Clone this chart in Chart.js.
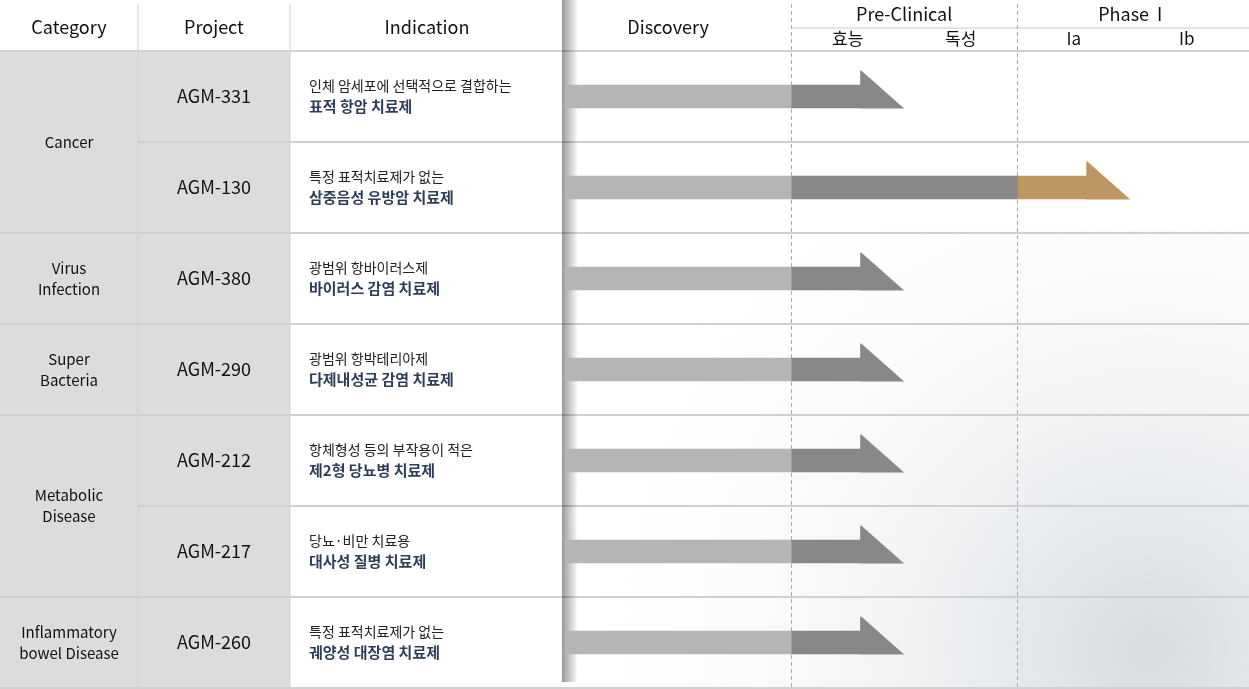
<!DOCTYPE html>
<html><head><meta charset="utf-8">
<script src="https://cdn.jsdelivr.net/npm/chart.js@4"></script>
<style>body{margin:0;background:#fff}canvas{display:block}</style>
</head><body>
<canvas id="pipe" width="1249" height="689"></canvas>
<script>
const projects = ['AGM-331', 'AGM-130', 'AGM-380', 'AGM-290', 'AGM-212', 'AGM-217', 'AGM-260'];
const descLine1 = ['인체 암세포에 선택적으로 결합하는', '특정 표적치료제가 없는', '광범위 항바이러스제', '광범위 항박테리아제', '항체형성 등의 부작용이 적은', '당뇨·비만 치료용', '특정 표적치료제가 없는'];
const descLine2 = ['표적 항암 치료제', '삼중음성 유방암 치료제', '바이러스 감염 치료제', '다제내성균 감염 치료제', '제2형 당뇨병 치료제', '대사성 질병 치료제', '궤양성 대장염 치료제'];
const categories = [['Cancer', 0, 1], ['Virus\nInfection', 2, 2], ['Super\nBacteria', 3, 3], ['Metabolic\nDisease', 4, 5], ['Inflammatory\nbowel Disease', 6, 6]];
// progress on stage axis: 0-2 Discovery, 2-4 Pre-Clinical (효능, 독성), 4-6 Phase I (Ia, Ib)
const progress = [3, 5, 3, 3, 3, 3, 3];
const headLen = 0.38;

const discovery = projects.map(() => [0, 2]);
const preclinical = progress.map(p => [2, Math.min(p - headLen, 4)]);
const phase1 = progress.map(p => p > 4 ? [4, p - headLen] : null);

const FONT = '"Noto Sans CJK KR", "Noto Sans", sans-serif';

const tablePlugin = {
  id: 'table',
  beforeDraw(chart) {
    const c = chart.ctx, y = chart.scales.y, x = chart.scales.x;
    const rowH = y.getPixelForValue(1) - y.getPixelForValue(0);
    const top = y.getPixelForValue(0) - rowH / 2;
    c.save();
    // faint background on right
    const g = c.createRadialGradient(1150, 650, 20, 1150, 650, 600);
    g.addColorStop(0, '#d8dde2'); g.addColorStop(1, 'rgba(255,255,255,0)');
    c.fillStyle = g; c.fillRect(565, 230, 684, 459);
    c.fillStyle = '#dcdcdc'; c.fillRect(0, top, 290, rowH * 7);
    c.fillStyle = '#fff'; c.fillRect(290, top, 275, rowH * 7);
    c.strokeStyle = '#d0d0d0'; c.lineWidth = 2;
    c.beginPath(); c.moveTo(0, top); c.lineTo(1249, top); c.stroke();
    for (let i = 0; i < 7; i++) {
      const yb = top + rowH * (i + 1);
      const catEnd = categories.some(k => k[2] === i);
      c.beginPath(); c.moveTo(catEnd ? 0 : 138, yb); c.lineTo(1249, yb); c.stroke();
    }
    c.lineWidth = 1;
    [138, 290].forEach(px => { c.beginPath(); c.moveTo(px, 4); c.lineTo(px, 689); c.stroke(); });
    // shadow
    const sg = c.createLinearGradient(560, 0, 578, 0);
    sg.addColorStop(0, 'rgba(0,0,0,0.45)'); sg.addColorStop(1, 'rgba(0,0,0,0)');
    c.fillStyle = sg; c.fillRect(562, 0, 16, 682);
    // headers
    c.fillStyle = '#111'; c.textAlign = 'center'; c.textBaseline = 'middle';
    c.font = '18px ' + FONT;
    c.fillText('Category', 69, 27); c.fillText('Project', 214, 27); c.fillText('Indication', 427, 27);
    c.fillText('Discovery', x.getPixelForValue(1) - 10, 27);
    c.fillText('Pre-Clinical', x.getPixelForValue(3), 14); c.fillText('Phase  I', x.getPixelForValue(5), 14);
    c.font = '17px ' + FONT;
    c.fillText('효능', x.getPixelForValue(2.5), 39); c.fillText('독성', x.getPixelForValue(3.5), 39);
    c.fillText('Ia', x.getPixelForValue(4.5), 39); c.fillText('Ib', x.getPixelForValue(5.5), 39);
    c.strokeStyle = '#ccc';
    c.beginPath(); c.moveTo(x.getPixelForValue(2), 28); c.lineTo(1249, 28); c.stroke();
    c.setLineDash([4, 3]); c.strokeStyle = '#aaa';
    [2, 4].forEach(v => { const px = Math.round(x.getPixelForValue(v)) + 0.5; c.beginPath(); c.moveTo(px, 4); c.lineTo(px, 689); c.stroke(); });
    c.setLineDash([]);
    // rows
    projects.forEach((p, i) => {
      const cy = y.getPixelForValue(i);
      c.fillStyle = '#111'; c.textAlign = 'center'; c.font = '18px ' + FONT;
      c.fillText(p, 214, cy);
      c.textAlign = 'left'; c.font = '14px ' + FONT; c.fillStyle = '#222';
      c.fillText(descLine1[i], 309, cy - 11);
      c.font = 'bold 15px ' + FONT; c.fillStyle = '#2f3e58';
      c.fillText(descLine2[i], 309, cy + 10);
    });
    categories.forEach(([t, a, b]) => {
      const cy = (y.getPixelForValue(a) + y.getPixelForValue(b)) / 2;
      const lines = t.split('\n');
      c.fillStyle = '#111'; c.textAlign = 'center'; c.font = '15px ' + FONT;
      lines.forEach((l, k) => c.fillText(l, 69, cy + (k - (lines.length - 1) / 2) * 21));
    });
    c.restore();
  },
  afterDatasetsDraw(chart) {
    const c = chart.ctx, y = chart.scales.y, x = chart.scales.x;
    progress.forEach((p, i) => {
      const cy = y.getPixelForValue(i);
      const x0 = x.getPixelForValue(p - headLen) - 1, x1 = x.getPixelForValue(p);
      c.fillStyle = p > 4 ? '#bd9763' : '#888888';
      c.beginPath(); c.moveTo(x0, cy - 26); c.lineTo(x0 + 1, cy - 26); c.lineTo(x1, cy + 12); c.lineTo(x0, cy + 12); c.closePath(); c.fill();
    });
  }
};

new Chart(document.getElementById('pipe'), {
  type: 'bar',
  data: {
    labels: projects,
    datasets: [
      { data: discovery, backgroundColor: '#b5b5b5', grouped: false, barThickness: 23 },
      { data: preclinical, backgroundColor: '#888888', grouped: false, barThickness: 23 },
      { data: phase1, backgroundColor: '#bd9763', grouped: false, barThickness: 23 }
    ]
  },
  options: {
    indexAxis: 'y', responsive: false, animation: false,
    layout: { padding: { left: 565, top: 51, right: 0, bottom: 1 } },
    plugins: { legend: { display: false }, tooltip: { enabled: false } },
    scales: {
      x: { min: 0, max: 6.05, display: false },
      y: { display: false, offset: true }
    }
  },
  plugins: [tablePlugin]
});
</script>
</body></html>
